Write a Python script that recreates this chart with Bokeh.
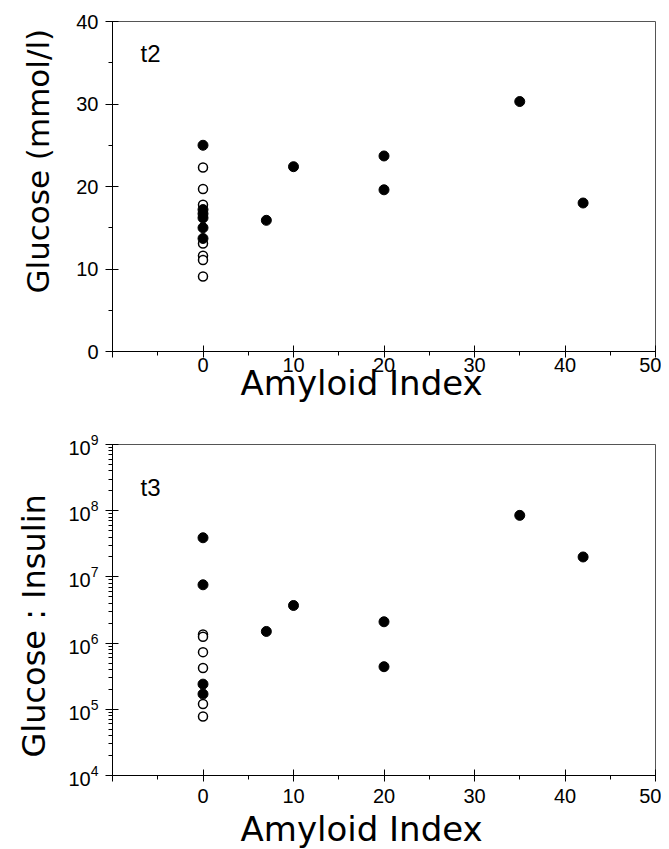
from bokeh.plotting import figure
from bokeh.layouts import column
from bokeh.models import FixedTicker, Label, Range1d, LogTicker, Title
from bokeh.embed import file_html
from bokeh.resources import INLINE

# ---- data ----
x_ticks = [-10, 0, 10, 20, 30, 40, 50]
x_minor = [-5, 5, 15, 25, 35, 45]
glu_ticks = [0, 10, 20, 30, 40]
glu_minor = [5, 15, 25, 35]

t2_filled_x = [0, 0, 0, 0, 0, 0, 7, 10, 20, 20, 35, 42]
t2_filled_y = [25.0, 17.2, 16.7, 16.2, 15.0, 13.7, 15.9, 22.4, 23.7, 19.6, 30.3, 18.0]
t2_open_x = [0, 0, 0, 0, 0, 0, 0]
t2_open_y = [22.3, 19.7, 17.8, 13.1, 11.6, 11.1, 9.1]

t3_filled_x = [0, 0, 0, 0, 7, 10, 20, 20, 35, 42]
t3_filled_y = [3.9e7, 7.6e6, 2.4e5, 1.7e5, 1.5e6, 3.7e6, 2.1e6, 4.4e5, 8.5e7, 2.0e7]
t3_open_x = [0, 0, 0, 0, 0, 0]
t3_open_y = [1.35e6, 1.25e6, 7.3e5, 4.2e5, 1.2e5, 7.8e4]

TITLE_FONT = "DejaVu Sans"
TICK_FONT = "Liberation Sans"


def style(p, label_standoff_x):
    p.outline_line_color = "#555555"
    p.outline_line_width = 1
    p.xgrid.visible = False
    p.ygrid.visible = False
    p.background_fill_color = "white"
    p.border_fill_color = "white"
    for ax in (p.xaxis[0], p.yaxis[0]):
        ax.axis_line_color = "black"
        ax.axis_line_width = 1
        ax.major_tick_line_color = "black"
        ax.minor_tick_line_color = "black"
        ax.major_label_text_font = TICK_FONT
        ax.major_label_text_font_size = "20px"
        ax.major_label_text_color = "black"
    xa = p.xaxis[0]
    xa.ticker = FixedTicker(ticks=x_ticks, minor_ticks=x_minor)
    xa.major_label_overrides = {-10: ""}
    xa.major_tick_in = 6
    xa.major_tick_out = 6
    xa.minor_tick_in = 0
    xa.minor_tick_out = 4
    xa.major_label_standoff = label_standoff_x
    ya = p.yaxis[0]
    ya.major_tick_in = 6
    ya.major_tick_out = 7
    ya.minor_tick_in = 0
    ya.minor_tick_out = 4
    ya.major_label_standoff = 7


def titles(p, x_off, x_standoff, ytext, ysize, y_off, y_standoff):
    p.add_layout(Title(text="Amyloid Index", align="left", offset=x_off,
                       standoff=x_standoff, text_font=TITLE_FONT,
                       text_font_size="34px", text_font_style="normal",
                       text_color="black"), "below")
    p.add_layout(Title(text=ytext, align="left", offset=y_off,
                       standoff=y_standoff, text_font=TITLE_FONT,
                       text_font_size=ysize, text_font_style="normal",
                       text_color="black"), "left")


p1 = figure(width=661, height=416, output_backend="svg", toolbar_location=None,
            x_range=Range1d(-10, 50), y_range=Range1d(0, 40),
            min_border_left=112, min_border_right=6, min_border_top=21,
            min_border_bottom=65)
style(p1, 0)
p1.yaxis[0].ticker = FixedTicker(ticks=glu_ticks, minor_ticks=glu_minor)
p1.scatter(t2_open_x, t2_open_y, size=9, marker="circle", fill_color="white",
           line_color="black", line_width=1.5)
p1.scatter(t2_filled_x, t2_filled_y, size=10, marker="circle", fill_color="black",
           line_color="black")
p1.add_layout(Label(x=28, y=298, x_units="screen", y_units="screen", text="t2",
                    text_font=TICK_FONT, text_font_size="24px", text_color="black",
                    text_baseline="middle"))
titles(p1, 128, -27, "Glucose (mmol/l)", "31px", 58, 35)

p2 = figure(width=661, height=433, output_backend="svg", toolbar_location=None,
            x_range=Range1d(-10, 50), y_range=Range1d(1e4, 1e9), y_axis_type="log",
            min_border_left=112, min_border_right=6, min_border_top=28,
            min_border_bottom=74)
style(p2, 7)
p2.yaxis[0].ticker = LogTicker(num_minor_ticks=10)
p2.scatter(t3_open_x, t3_open_y, size=9, marker="circle", fill_color="white",
           line_color="black", line_width=1.5)
p2.scatter(t3_filled_x, t3_filled_y, size=10, marker="circle", fill_color="black",
           line_color="black")
p2.add_layout(Label(x=28, y=288, x_units="screen", y_units="screen", text="t3",
                    text_font=TICK_FONT, text_font_size="24px", text_color="black",
                    text_baseline="middle"))
titles(p2, 128, 2, "Glucose : Insulin", "32px", 18, 25)

layout = column(p1, p2, spacing=0)
open("out.html", "w").write(file_html(layout, INLINE))
